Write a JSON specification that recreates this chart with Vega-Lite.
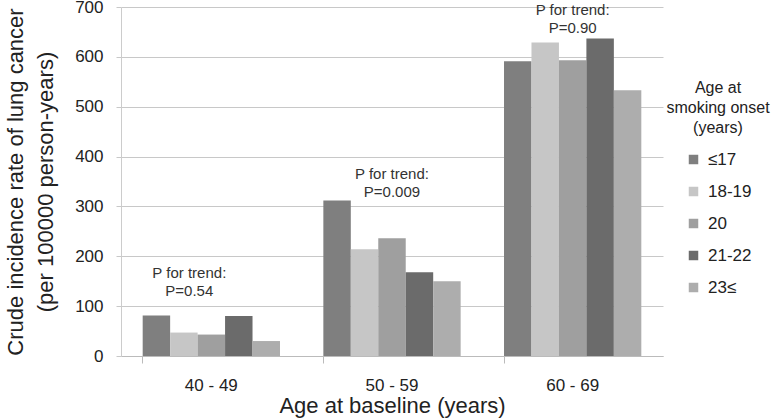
{
  "$schema": "https://vega.github.io/schema/vega-lite/v6.json",
  "width": 542,
  "height": 349,
  "autosize": {"type": "none"},
  "padding": {"left": 121, "top": 7, "right": 112, "bottom": 64},
  "background": "white",
  "datasets": {
    "rates": [
      {"age": "40 - 49", "onset": "≤17", "rate": 81},
      {"age": "40 - 49", "onset": "18-19", "rate": 47},
      {"age": "40 - 49", "onset": "20", "rate": 43},
      {"age": "40 - 49", "onset": "21-22", "rate": 80},
      {"age": "40 - 49", "onset": "23≤", "rate": 30},
      {"age": "50 - 59", "onset": "≤17", "rate": 312},
      {"age": "50 - 59", "onset": "18-19", "rate": 214},
      {"age": "50 - 59", "onset": "20", "rate": 236},
      {"age": "50 - 59", "onset": "21-22", "rate": 168},
      {"age": "50 - 59", "onset": "23≤", "rate": 150},
      {"age": "60 - 69", "onset": "≤17", "rate": 591},
      {"age": "60 - 69", "onset": "18-19", "rate": 629},
      {"age": "60 - 69", "onset": "20", "rate": 593},
      {"age": "60 - 69", "onset": "21-22", "rate": 637},
      {"age": "60 - 69", "onset": "23≤", "rate": 533}
    ],
    "trend": [
      {"age": "40 - 49", "label": "P for trend:\nP=0.54", "rate": 180},
      {"age": "50 - 59", "label": "P for trend:\nP=0.009", "rate": 379},
      {"age": "60 - 69", "label": "P for trend:\nP=0.90", "rate": 708}
    ]
  },
  "encoding": {
    "x": {
      "field": "age",
      "type": "nominal",
      "sort": ["40 - 49", "50 - 59", "60 - 69"],
      "scale": {"paddingInner": 0.24, "paddingOuter": 0.12},
      "axis": {
        "title": "Age at baseline (years)",
        "titleFontSize": 22,
        "titleFontWeight": "normal",
        "titleColor": "#222",
        "titlePadding": 2,
        "labelAngle": 0,
        "labelFontSize": 17,
        "labelColor": "#222",
        "labelPadding": 14,
        "bandPosition": 0,
        "tickSize": 7,
        "tickColor": "#bbbbbb",
        "domainColor": "#bbbbbb",
        "grid": false
      }
    },
    "y": {
      "field": "rate",
      "type": "quantitative",
      "scale": {"domain": [0, 700], "nice": false},
      "axis": {
        "title": ["Crude incidence rate of lung cancer", "(per 100000 person-years)"],
        "titleFontSize": 22,
        "titleFontWeight": "normal",
        "titleColor": "#222",
        "titleLineHeight": 30,
        "titlePadding": 17,
        "labelFontSize": 17,
        "labelColor": "#222",
        "labelPadding": 13,
        "values": [0, 100, 200, 300, 400, 500, 600, 700],
        "ticks": true,
        "tickSize": 5,
        "tickColor": "#c8c8c8",
        "domainColor": "#cccccc",
        "gridColor": "#c8c8c8"
      }
    }
  },
  "layer": [
    {
      "data": {"name": "rates"},
      "mark": {"type": "bar"},
      "encoding": {
        "xOffset": {
          "field": "onset",
          "type": "nominal",
          "sort": ["≤17", "18-19", "20", "21-22", "23≤"]
        },
        "color": {
          "field": "onset",
          "type": "nominal",
          "scale": {
            "domain": ["≤17", "18-19", "20", "21-22", "23≤"],
            "range": ["#7f7f7f", "#c6c6c6", "#9f9f9f", "#6b6b6b", "#adadad"]
          },
          "legend": {
            "title": ["Age at", "smoking onset", "(years)"],
            "orient": "none",
            "legendX": 545,
            "legendY": 73,
            "titleFontSize": 16,
            "titleFontWeight": "normal",
            "titleColor": "#222",
            "titleAnchor": "middle",
            "titleAlign": "center",
            "titleLineHeight": 20,
            "titlePadding": 15,
            "labelFontSize": 17,
            "labelColor": "#222",
            "labelOffset": 6,
            "symbolType": "square",
            "symbolSize": 90,
            "symbolStrokeWidth": 0,
            "rowPadding": 14
          }
        }
      }
    },
    {
      "data": {"name": "trend"},
      "transform": [{"filter": "datum.age === '40 - 49'"}],
      "mark": {"type": "text", "fontSize": 15, "color": "#333", "lineBreak": "\n", "lineHeight": 18, "baseline": "top", "dx": -22},
      "encoding": {
        "text": {"field": "label"}
      }
    },
    {
      "data": {"name": "trend"},
      "transform": [{"filter": "datum.age !== '40 - 49'"}],
      "mark": {"type": "text", "fontSize": 15, "color": "#333", "lineBreak": "\n", "lineHeight": 18, "baseline": "top"},
      "encoding": {
        "text": {"field": "label"}
      }
    }
  ],
  "config": {
    "font": "Liberation Sans",
    "view": {"stroke": null}
  }
}
